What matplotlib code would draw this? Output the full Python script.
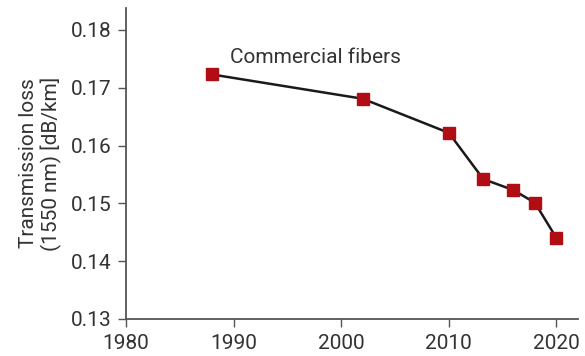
import matplotlib.pyplot as plt

years = [1988, 2002, 2010, 2013.2, 2016, 2018, 2020]
loss = [0.1723, 0.1681, 0.1622, 0.1542, 0.1523, 0.1501, 0.1440]
xticks = [1980, 1990, 2000, 2010, 2020]
yticks = [0.13, 0.14, 0.15, 0.16, 0.17, 0.18]

plt.rcParams['font.family'] = ['Roboto', 'DejaVu Sans']

fig = plt.figure(figsize=(5.85, 3.56), dpi=100)
ax = fig.add_axes([0.2154, 0.104, 0.7726, 0.8735])

ax.plot(years, loss, color='#1a1a1a', linewidth=1.8, marker='s',
        markersize=8.5, markerfacecolor='#b00e14', markeredgecolor='#b00e14',
        zorder=3)

ax.text(1989.7, 0.1742, 'Commercial fibers', fontsize=15, color='#333333',
        va='baseline')

ax.set_xlim(1980, 2022)
ax.set_ylim(0.13, 0.1838)
ax.set_xticks(xticks)
ax.set_yticks(yticks)
ax.set_yticklabels(['%.2f' % v for v in yticks])

for side in ['top', 'right']:
    ax.spines[side].set_visible(False)
for side in ['left', 'bottom']:
    ax.spines[side].set_color('#555555')
    ax.spines[side].set_linewidth(1.3)

ax.tick_params(direction='out', length=5.5, width=1, color='#555555',
               labelsize=15, labelcolor='#333333', pad=5)
ax.set_ylabel('Transmission loss\n(1550 nm) [dB/km]', fontsize=15,
              color='#333333', linespacing=1.2, labelpad=6)

fig.savefig('out.png', dpi=100)
